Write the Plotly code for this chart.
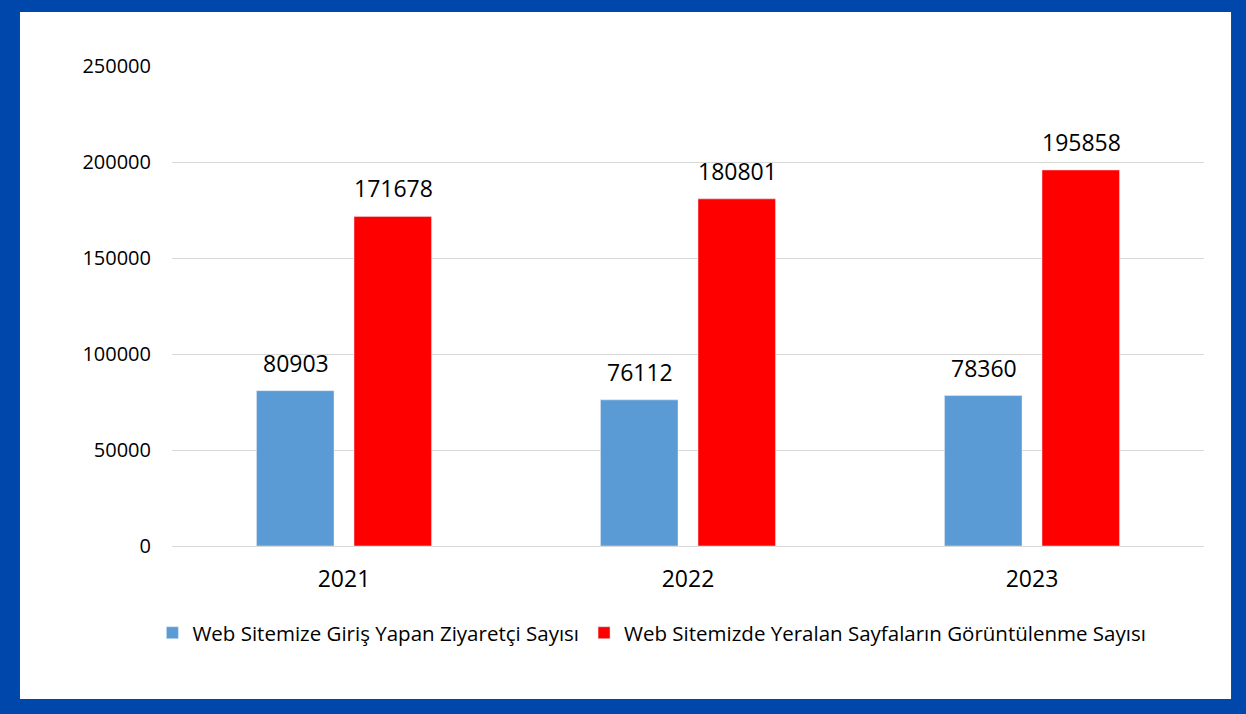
import plotly.graph_objects as go

years = ["2021", "2022", "2023"]
visitors = [80903, 76112, 78360]
pageviews = [171678, 180801, 195858]
series_names = ["Web Sitemize Giriş Yapan Ziyaretçi Sayısı",
                "Web Sitemizde Yeralan Sayfaların Görüntülenme Sayısı"]
colors = ["#5B9BD5", "#FF0000"]
y_ticks = [0, 50000, 100000, 150000, 200000, 250000]

FONT = "Open Sans"

fig = go.Figure()
fig.add_trace(go.Bar(x=years, y=visitors, name=series_names[0], marker_color=colors[0]))
fig.add_trace(go.Bar(x=years, y=pageviews, name=series_names[1], marker_color=colors[1]))

annotations = []
for vals, shift in ((visitors, -48.5), (pageviews, 49)):
    for i, v in enumerate(vals):
        annotations.append(dict(x=i, y=v, xref="x", yref="y", text=str(v), showarrow=False,
                                xshift=shift, yanchor="bottom", yshift=10,
                                font=dict(family=FONT, size=23, color="#000000")))

fig.update_layout(
    width=1246, height=714,
    margin=dict(l=172, r=42, t=66, b=168, autoexpand=False),
    paper_bgcolor="#0047AB",
    plot_bgcolor="rgba(0,0,0,0)",
    barmode="group", bargap=0.433, bargroupgap=0.205,
    font=dict(family=FONT, size=20, color="#000000"),
    showlegend=True,
    legend=dict(orientation="h", x=0.465, xanchor="center", y=-0.181, yanchor="middle",
                bgcolor="rgba(0,0,0,0)",
                font=dict(family=FONT, size=20.5, color="#000000"), traceorder="normal"),
    annotations=annotations,
    shapes=[dict(type="rect", xref="paper", yref="paper", x0=-0.1473, x1=1.0262,
                 y0=-0.31875, y1=1.1125, fillcolor="#FFFFFF", line=dict(width=0), layer="below")],
    xaxis=dict(type="category", categoryorder="array", categoryarray=years,
               range=[-0.5, len(years) - 0.5], autorange=False,
               showline=True, linecolor="#D9D9D9", linewidth=1, ticks="",
               tickfont=dict(family=FONT, size=23), ticklabelstandoff=12,
               showgrid=False, automargin=False),
    yaxis=dict(range=[0, 250000], autorange=False, tickvals=y_ticks, tickformat="d", showgrid=True,
               gridcolor="#D9D9D9", gridwidth=1, zeroline=False, ticks="",
               tickfont=dict(family=FONT, size=20), ticklabelstandoff=20, automargin=False),
)
fig.write_html("out.html", config={"displayModeBar": False},
               post_script="document.body.style.margin='0';")
